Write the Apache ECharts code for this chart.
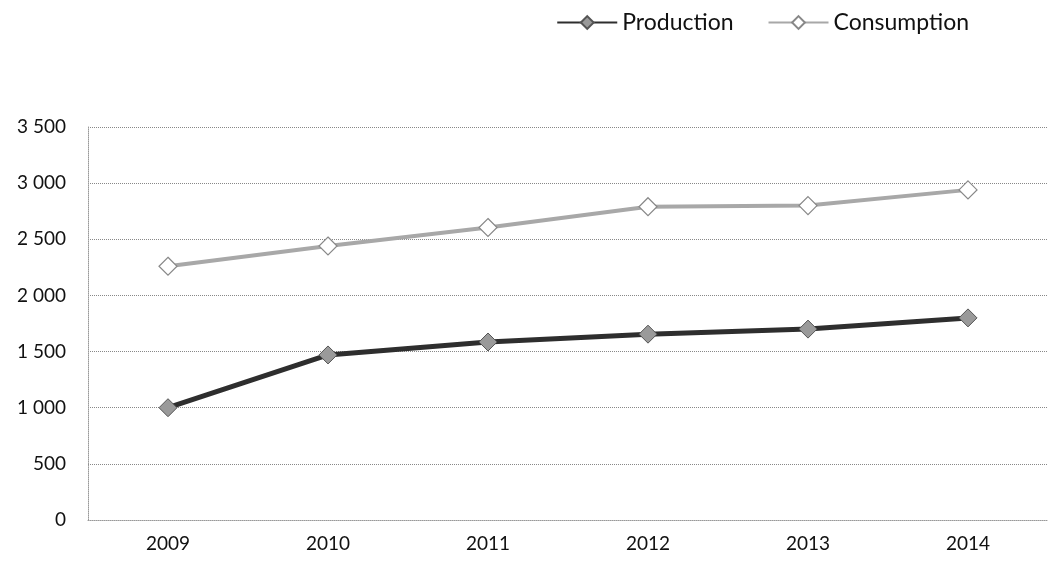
<!DOCTYPE html>
<html>
<head>
<meta charset="utf-8">
<script src="https://cdn.jsdelivr.net/npm/echarts@6/dist/echarts.min.js"></script>
<style>
  html, body { margin: 0; padding: 0; background: #fff; }
  #chart { width: 1050px; height: 562px; }
</style>
</head>
<body>
<div id="chart"></div>
<script>
// Years on the category axis
const years = ['2009', '2010', '2011', '2012', '2013', '2014'];
// Annual production and consumption
const production = [1000, 1470, 1585, 1655, 1700, 1800];
const consumption = [2260, 2440, 2605, 2790, 2800, 2940];
// Value axis range
const yMin = 0, yMax = 3500, yStep = 500;

const fontFamily = 'Lato, "Open Sans", sans-serif';

// Thousands with a space separator, e.g. "3 500"
function fmt(v) {
  return String(v).replace(/\B(?=(\d{3})+(?!\d))/g, ' ');
}

const chart = echarts.init(document.getElementById('chart'));
chart.setOption({
  backgroundColor: '#ffffff',
  animation: false,
  legend: {
    top: 6,
    right: 76,
    itemWidth: 60,
    itemHeight: 16,
    itemGap: 34,
    textStyle: { fontFamily, fontSize: 23, color: '#111' },
    data: ['Production', 'Consumption']
  },
  grid: { left: 88, right: 2, top: 127, bottom: 42 },
  xAxis: {
    type: 'category',
    data: years,
    boundaryGap: true,
    axisLine: { show: true, lineStyle: { color: '#999', type: 'dotted' } },
    axisTick: { show: false },
    axisLabel: { fontFamily, fontSize: 19, color: '#111', margin: 14 }
  },
  yAxis: {
    type: 'value',
    min: yMin,
    max: yMax,
    interval: yStep,
    axisLine: { show: true, lineStyle: { color: '#999', type: 'dotted' } },
    axisTick: { show: false },
    axisLabel: { fontFamily, fontSize: 19, color: '#111', margin: 22, formatter: fmt },
    splitLine: { show: true, lineStyle: { color: '#888', type: 'dotted', width: 1 } }
  },
  series: [
    {
      name: 'Production',
      type: 'line',
      data: production,
      symbol: 'diamond',
      symbolSize: 18,
      lineStyle: { color: '#2e2e2e', width: 5 },
      itemStyle: { color: '#9a9a9a', borderColor: '#555', borderWidth: 1 },
      z: 3
    },
    {
      name: 'Consumption',
      type: 'line',
      data: consumption,
      symbol: 'diamond',
      symbolSize: 18,
      lineStyle: { color: '#a8a8a8', width: 4 },
      itemStyle: { color: '#ffffff', borderColor: '#888', borderWidth: 1.2 },
      z: 2
    }
  ]
});
</script>
</body>
</html>
